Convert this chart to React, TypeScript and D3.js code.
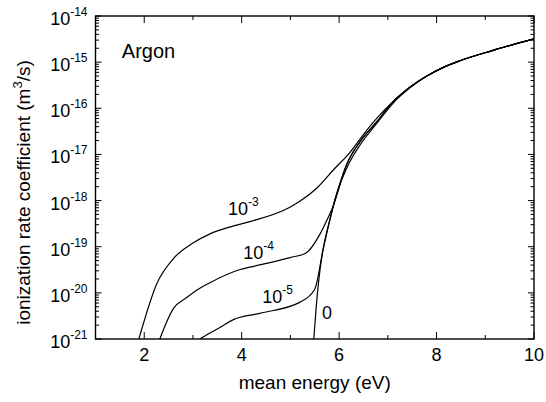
import * as d3 from 'd3'
import { useEffect, useRef } from 'react'

// curves (energy in eV, rate in m^3/s)
const energy3 = [1.89, 2.26, 2.63, 3.0, 3.35, 3.77, 4.17, 4.99, 5.2, 5.55, 5.88, 6.22, 6.51, 6.78, 7.11, 7.46]
const rate3 = [1e-21, 1.6e-20, 6.0e-20, 1.2e-19, 1.9e-19, 2.7e-19, 3.5e-19, 7.2e-19, 9.8e-19, 1.9e-18, 4.6e-18, 1.1e-17, 2.8e-17, 6.2e-17, 1.4e-16, 2.9e-16]

const energy4 = [2.32, 2.6, 2.87, 3.11, 3.35, 3.97, 4.17, 4.99, 5.32, 5.61, 5.75, 5.87, 6.16, 6.43, 6.78, 7.11, 7.46]
const rate4 = [1e-21, 4.6e-21, 7.9e-21, 1.2e-20, 1.66e-20, 3.2e-20, 3.6e-20, 5.8e-20, 7.3e-20, 1.9e-19, 3.8e-19, 7.2e-19, 6.3e-18, 1.9e-17, 5.2e-17, 1.4e-16, 2.9e-16]

const energy5 = [3.14, 3.35, 3.56, 3.82, 4.37, 5.2, 5.5, 5.67, 5.87, 6.16, 6.43, 6.78, 7.11, 7.46]
const rate5 = [1e-21, 1.35e-21, 1.8e-21, 2.6e-21, 3.6e-21, 6.3e-21, 1.2e-20, 8.5e-20, 6.9e-19, 6.2e-18, 1.9e-17, 5.2e-17, 1.4e-16, 2.9e-16]

const energy0 = [5.48, 5.53, 5.86, 6.17, 6.43, 6.78, 7.11, 7.46]
const rate0 = [1e-21, 4.9e-21, 6.3e-19, 5.4e-18, 1.6e-17, 4.8e-17, 1.3e-16, 2.8e-16]

// all curves share the same high energy part
const tailEnergy = [7.8, 8.13, 8.48, 9.16, 10]
const tailRate = [5.0e-16, 7.6e-16, 1.07e-15, 1.8e-15, 3.2e-15]

const xMajor = [2, 4, 6, 8, 10]
const xMinor = [3, 5, 7, 9]
const yExponents = [-21, -20, -19, -18, -17, -16, -15, -14]

const curveLabels = [
  { base: '10', sup: '-3', x: 3.72, y: 4.9e-19 },
  { base: '10', sup: '-4', x: 4.03, y: 5.4e-20 },
  { base: '10', sup: '-5', x: 4.42, y: 6.0e-21 },
  { base: '0', sup: '', x: 5.65, y: 2.7e-21 },
]

const FONT = '"Liberation Sans", Arial, Helvetica, sans-serif'

const App = () => {
  const svgRef = useRef<SVGSVGElement>(null)

  useEffect(() => {
    const svg = d3.select(svgRef.current)
    svg.selectAll('*').remove()

    const width = 546
    const height = 402
    const margin = { top: 16, right: 12, bottom: 63, left: 95.5 }
    const x0 = margin.left
    const x1 = width - margin.right
    const y0 = margin.top
    const y1 = height - margin.bottom

    const x = d3.scaleLinear().domain([1, 10]).range([x0, x1])
    const y = d3.scaleLog().domain([1e-21, 1e-14]).range([y1, y0])

    svg
      .append('clipPath')
      .attr('id', 'plot-clip')
      .append('rect')
      .attr('x', x0)
      .attr('y', y0)
      .attr('width', x1 - x0)
      .attr('height', y1 - y0)

    const series = [
      { e: energy3, r: rate3 },
      { e: energy4, r: rate4 },
      { e: energy5, r: rate5 },
      { e: energy0, r: rate0 },
    ].map((s) =>
      s.e.concat(tailEnergy).map((e, i) => ({ e, r: s.r.concat(tailRate)[i] }))
    )

    const line = d3
      .line<{ e: number; r: number }>()
      .x((d) => x(d.e))
      .y((d) => y(d.r))
      .curve(d3.curveMonotoneX)

    svg
      .append('g')
      .attr('clip-path', 'url(#plot-clip)')
      .selectAll('path')
      .data(series)
      .enter()
      .append('path')
      .attr('d', (d) => line(d))
      .attr('fill', 'none')
      .attr('stroke', 'black')
      .attr('stroke-width', 1.2)

    // frame
    svg
      .append('rect')
      .attr('x', x0)
      .attr('y', y0)
      .attr('width', x1 - x0)
      .attr('height', y1 - y0)
      .attr('fill', 'none')
      .attr('stroke', 'black')
      .attr('stroke-width', 1.4)

    const ticks = svg.append('g').attr('stroke', 'black').attr('stroke-width', 1)

    // x ticks, inward on bottom and top
    const xTicks = xMajor.map((v) => ({ v, len: 7 })).concat(xMinor.map((v) => ({ v, len: 4 })))
    xTicks.forEach((t) => {
      ticks.append('line').attr('x1', x(t.v)).attr('x2', x(t.v)).attr('y1', y1).attr('y2', y1 - t.len)
      ticks.append('line').attr('x1', x(t.v)).attr('x2', x(t.v)).attr('y1', y0).attr('y2', y0 + t.len)
    })

    // y ticks, decades and minor 2..9
    const yTicks: { v: number; len: number }[] = []
    yExponents.forEach((p, i) => {
      yTicks.push({ v: Math.pow(10, p), len: 6 })
      if (i < yExponents.length - 1) {
        for (let m = 2; m <= 9; m++) yTicks.push({ v: m * Math.pow(10, p), len: 3.5 })
      }
    })
    yTicks.forEach((t) => {
      ticks.append('line').attr('x1', x0).attr('x2', x0 + t.len).attr('y1', y(t.v)).attr('y2', y(t.v))
      ticks.append('line').attr('x1', x1).attr('x2', x1 - t.len).attr('y1', y(t.v)).attr('y2', y(t.v))
    })

    // x tick labels
    svg
      .selectAll('.x-label')
      .data(xMajor)
      .enter()
      .append('text')
      .attr('class', 'x-label')
      .attr('x', (d) => x(d))
      .attr('y', y1 + 22)
      .attr('text-anchor', 'middle')
      .style('font-family', FONT)
      .style('font-size', '18px')
      .text((d) => `${d}`)

    // y tick labels as 10^p
    const yl = svg
      .selectAll('.y-label')
      .data(yExponents)
      .enter()
      .append('text')
      .attr('class', 'y-label')
      .attr('x', x0 - 8)
      .attr('y', (d) => y(Math.pow(10, d)) + 9)
      .attr('text-anchor', 'end')
      .style('font-family', FONT)
      .style('font-size', '18px')
    yl.append('tspan').text('10')
    yl.append('tspan').attr('dy', -9).style('font-size', '12px').text((d) => `${d}`)

    // curve labels
    curveLabels.forEach((l) => {
      const t = svg
        .append('text')
        .attr('x', x(l.x))
        .attr('y', y(l.y))
        .style('font-family', FONT)
        .style('font-size', '18px')
      t.append('tspan').text(l.base)
      if (l.sup) t.append('tspan').attr('dy', -9).style('font-size', '12px').text(l.sup)
    })

    svg
      .append('text')
      .attr('x', x(1.54))
      .attr('y', y(1.23e-15))
      .style('font-family', FONT)
      .style('font-size', '20px')
      .text('Argon')

    // axis titles
    svg
      .append('text')
      .attr('x', (x0 + x1) / 2)
      .attr('y', 389)
      .attr('text-anchor', 'middle')
      .style('font-family', FONT)
      .style('font-size', '19px')
      .text('mean energy (eV)')

    const yt = svg
      .append('text')
      .attr('transform', `translate(30,${(y0 + y1) / 2 + 15}) rotate(-90)`)
      .attr('text-anchor', 'middle')
      .style('font-family', FONT)
      .style('font-size', '19px')
    yt.append('tspan').text('ionization rate coefficient (m')
    yt.append('tspan').attr('dy', -8).style('font-size', '13px').text('3')
    yt.append('tspan').attr('dy', 8).text('/s)')
  }, [])

  return (
    <svg
      ref={svgRef}
      width={546}
      height={402}
      style={{ position: 'absolute', left: 0, top: 0, background: 'white' }}
    ></svg>
  )
}

export default App
